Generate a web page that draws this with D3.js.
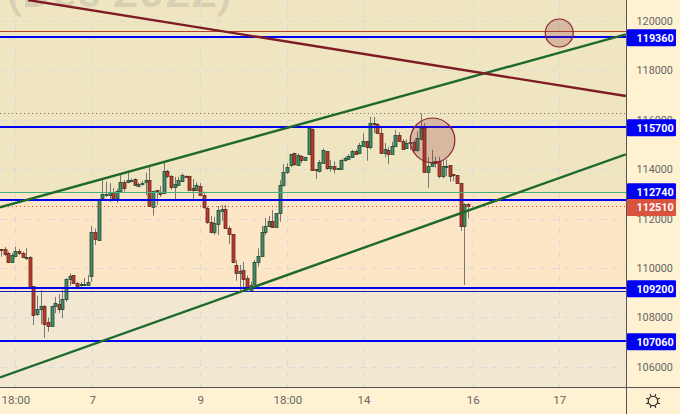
<!DOCTYPE html>
<html><head><meta charset="utf-8">
<script src="https://cdn.jsdelivr.net/npm/d3@7"></script>
<style>html,body{margin:0;padding:0;background:#fff2d2}svg{display:block}text{font-family:Roboto,sans-serif}</style>
</head><body><div id="chart"></div>
<script>
const opens=[110750,110770,110590,110210,110450,110670,110590,110400,110440,109270,
108130,108350,108460,107810,107660,108430,108540,108310,108710,109550,
109700,109390,109300,109280,109320,109640,111440,111140,112800,112980,
112950,113090,112830,113100,113490,113450,113490,113590,113290,113390,
113450,113550,112480,113140,113090,113020,113910,113710,113250,113330,
113490,113730,113720,113240,113170,113310,112940,112410,111850,111450,
111770,112320,112370,111600,111360,110110,109770,109920,109580,109110,
109320,110230,110450,111430,111670,111890,111630,112210,113330,113870,
114180,114640,114170,114550,114380,114590,115630,114000,113930,114260,
114740,114060,114120,113980,114020,114340,114420,114500,114740,114640,
114910,115130,114870,115860,115820,115450,114640,114790,114630,114950,
115380,115150,114830,115080,115090,114750,115250,115670,113900,114130,
114330,114320,113720,114120,114160,113790,113750,113430,111670,112580];
const closes=[110730,110580,110210,110510,110670,110580,110410,110440,109230,108110,
108340,108460,107740,107660,108460,108570,108340,108730,109540,109670,
109360,109270,109330,109340,109430,111440,111140,112800,112980,113010,
113090,112830,113100,113480,113250,113550,113550,113330,113390,113440,
113550,112480,113120,113090,113010,113910,113690,113250,113390,113550,
113750,113690,113170,113170,113360,112930,112440,111830,111430,111810,
112330,112390,111590,111350,110210,109770,109860,109550,109220,109320,
110230,110470,111440,111680,111890,111630,112210,113350,113870,114080,
114610,114180,114570,114370,114490,115650,113970,113950,114290,114780,
114050,114130,113980,114030,114380,114440,114550,114740,114630,114970,
115130,114870,115860,115820,115450,114640,114800,114640,114950,115380,
115150,114840,115050,115100,114750,115250,115680,113900,114140,114260,
114240,113720,114130,114140,113730,113730,113430,111670,112580,112510];
const highs=[110770,110850,110660,110600,110860,110770,110660,110820,110480,109270,
108880,109100,108500,107980,108460,108830,108940,109130,109580,109780,
109700,109440,109430,109600,109710,111700,111600,112800,113560,113490,
113430,113240,113200,113830,113560,113940,113630,113630,113450,113530,
113860,114130,113120,113140,113320,114300,113970,113760,113690,113690,
113830,113750,113740,113600,113470,113430,113090,112480,112100,112070,
112510,112550,112550,111700,111360,110320,110120,110250,109700,109440,
110320,110790,111700,112020,112100,112350,112210,113560,114210,114240,
114610,114670,114640,114570,114500,115650,115650,114010,114370,114840,
114740,114370,114320,114040,114400,114500,114610,114780,114800,115070,
115450,115130,116120,116120,115860,115720,115060,114900,115110,115590,
115490,115220,115210,115250,115180,115520,116260,115860,114490,114780,
114500,114500,114370,114400,114160,113790,113750,113430,112620,112620];
const lows=[110450,110480,110210,110210,110440,110520,110400,110320,109230,107690,
108060,107730,107170,107420,107660,108170,108170,107970,108630,109270,
109360,109220,109230,109270,109270,109440,110930,111140,112750,112880,
112670,112750,112640,113050,113090,113430,113470,113330,113270,113330,
112950,112480,112120,112550,112880,113020,113640,113160,112790,113320,
113470,113690,113160,112790,113130,112930,112390,111780,111400,111330,
111330,111910,111590,110970,110190,109480,109040,109190,109110,109110,
109310,110050,110450,111330,111660,111630,111630,111870,113290,113800,
114080,114130,114130,114240,114370,114590,113930,113610,113860,114260,
113970,113900,113830,113980,114020,114300,114400,114500,114600,114610,
114910,114340,114800,115460,115450,114640,114480,114200,114630,114940,
115150,114840,114820,114780,114710,114700,115250,113900,113240,114100,
114050,113630,113630,113720,113490,113520,113430,111500,109310,112010];

const priceTicks=[120000,118000,116000,114000,112000,110000,108000,106000];
const timeTickIndex=[3.85,25.1,54.9,79,100,130.2,154.1];
const timeTickLabels=["18:00","7","9","18:00","14","16","17"];
const blueLevels=[119360,115700,112740,109200,107060];
const lastPrice=112510;
const zoneTop=113070, zoneBottom=109052;
const thinRedLevel=119600, dottedGreyLevel=116260;
const greenTrends=[[-0.39,112455,172.5,119461],[-0.39,105566,172.5,114601]];
const maroonTrend=[7.35,120850,172.5,116962];
const circles=[[154.1,119514,14],[119.1,115168,22.3]];
const watermark="(Dec 2022)";

const W=680,H=414,plotR=626,plotB=387;
const svg=d3.select("#chart").append("svg").attr("width",W).attr("height",H);
const x=d3.scaleLinear().domain([0,172.5]).range([1.4,625.85]);
const y=d3.scaleLinear().domain([120000,106000]).range([21,366.7]);
const ry=v=>Math.round(y(v));

svg.append("rect").attr("width",W).attr("height",H).attr("fill","#fff2d2");
svg.append("clipPath").attr("id","plot").append("rect").attr("width",plotR).attr("height",plotB);
const p=svg.append("g").attr("clip-path","url(#plot)");
// zones
p.append("rect").attr("width",plotR).attr("height",ry(zoneTop)).attr("fill","#efe6c1");
p.append("rect").attr("y",ry(zoneTop)).attr("width",plotR).attr("height",ry(zoneBottom)-ry(zoneTop)).attr("fill","#fde6c6");
p.append("rect").attr("y",ry(zoneBottom)).attr("width",plotR).attr("height",plotB-ry(zoneBottom)).attr("fill","#f2e8d2");
// watermark
p.append("text").attr("x",6).attr("y",7).attr("font-size",46).attr("font-weight",500).attr("fill","#d8cfb2").text(watermark);
// grid
const grid=p.append("g").attr("stroke","#dcdad8").attr("stroke-width",1).attr("stroke-dasharray","6 6");
grid.selectAll(".h").data(priceTicks).join("line").attr("x1",0).attr("x2",plotR)
 .attr("y1",d=>ry(d)+.5).attr("y2",d=>ry(d)+.5);
grid.selectAll(".v").data(timeTickIndex).join("line").attr("y1",0).attr("y2",plotB)
 .attr("x1",d=>Math.round(x(d))+.5).attr("x2",d=>Math.round(x(d))+.5);
// candles
const idx=d3.range(opens.length);
const RED="#c0392b",GRN="#4a8a66",REDB="#5a2a1e",GRNB="#1d4a32";
const c=p.append("g");
c.selectAll(".w").data(idx).join("line").attr("stroke","#777").attr("stroke-width",1)
 .attr("x1",i=>Math.floor(x(i))+.5).attr("x2",i=>Math.floor(x(i))+.5)
 .attr("y1",i=>y(highs[i])).attr("y2",i=>y(lows[i]));
c.selectAll(".b").data(idx).join("rect")
 .attr("x",i=>Math.floor(x(i))-1).attr("width",3)
 .attr("y",i=>ry(Math.max(opens[i],closes[i]))+.5)
 .attr("height",i=>Math.max(1,Math.round(Math.abs(y(opens[i])-y(closes[i])))))
 .attr("fill",i=>closes[i]>=opens[i]?GRN:RED)
 .attr("stroke",i=>closes[i]>=opens[i]?GRNB:REDB).attr("stroke-width",.8);
// level lines
const hline=(v,col,w,dash)=>p.append("line").attr("x1",0).attr("x2",plotR).attr("y1",ry(v)+.5).attr("y2",ry(v)+.5).attr("stroke",col).attr("stroke-width",w).attr("stroke-dasharray",dash||null);
hline(zoneTop,"#45b07c",1);
hline(zoneBottom,"#1a1acc",1);
hline(thinRedLevel,"#b5402a",1);
hline(dottedGreyLevel,"#7f7461",1,"1 3");
hline(lastPrice,"#e8392f",1,"1 3");
p.selectAll(".bl").data(blueLevels).join("line").attr("x1",0).attr("x2",plotR)
 .attr("y1",d=>ry(d)).attr("y2",d=>ry(d)).attr("stroke","#0000f5").attr("stroke-width",2.2);
// trendlines
p.selectAll(".g").data(greenTrends).join("line")
 .attr("x1",d=>x(d[0])).attr("y1",d=>y(d[1])).attr("x2",d=>x(d[2])).attr("y2",d=>y(d[3]))
 .attr("stroke","#1f6a2a").attr("stroke-width",2.4);
p.append("line").attr("x1",x(maroonTrend[0])).attr("y1",y(maroonTrend[1])).attr("x2",x(maroonTrend[2])).attr("y2",y(maroonTrend[3]))
 .attr("stroke","#7d1c24").attr("stroke-width",2.4);
// circles
p.selectAll("circle").data(circles).join("circle")
 .attr("cx",d=>x(d[0])).attr("cy",d=>y(d[1])).attr("r",d=>d[2])
 .attr("fill","rgba(140,42,50,.24)").attr("stroke","#8c2236").attr("stroke-width",1.2);
// axes frame
svg.append("line").attr("x1",plotR+.5).attr("x2",plotR+.5).attr("y1",0).attr("y2",H).attr("stroke","#555");
svg.append("line").attr("x1",0).attr("x2",W).attr("y1",plotB+.5).attr("y2",plotB+.5).attr("stroke","#555");
// axis text
const yAxis=d3.axisRight(y).tickValues(priceTicks).tickSize(0).tickPadding(0).tickFormat(d3.format("d"));
const ya=svg.append("g").attr("transform",`translate(636.5,0)`).call(yAxis);
ya.select(".domain").remove();
ya.selectAll("text").attr("font-size",10.8).attr("fill","#666").style("font-family","Roboto,sans-serif");
const xAxis=d3.axisBottom(x).tickValues(timeTickIndex).tickSize(0).tickPadding(0).tickFormat((d,i)=>timeTickLabels[i]);
const xa=svg.append("g").attr("transform",`translate(0,396)`).call(xAxis);
xa.select(".domain").remove();
xa.selectAll("text").attr("font-size",11.5).attr("fill","#666").style("font-family","Roboto,sans-serif");
// price labels
const labelNudge={112740:-9};
const lab=svg.append("g");
const drawLabel=(v,color,dy)=>{
  const cy=ry(v)+dy;
  lab.append("rect").attr("x",627).attr("y",cy-8.5).attr("width",49).attr("height",17).attr("rx",1).attr("fill",color);
  lab.append("text").attr("x",636.5).attr("y",cy+4).attr("font-size",10.8).attr("font-weight",700).attr("fill","#fff").text(v);
};
blueLevels.forEach(v=>drawLabel(v,"#0000f5",(labelNudge[v]||0)+.7));
drawLabel(lastPrice,"#d9533f",1.4);
// sun icon
const sun=svg.append("g").attr("transform","translate(653,401)").attr("stroke","#222").attr("fill","none").attr("stroke-width",1.1);
sun.append("circle").attr("r",4.8);
d3.range(8).forEach(k=>{const a=k*Math.PI/4+Math.PI/8;sun.append("line").attr("x1",5.2*Math.cos(a)).attr("y1",5.2*Math.sin(a)).attr("x2",7.4*Math.cos(a)).attr("y2",7.4*Math.sin(a));});
</script></body></html>
